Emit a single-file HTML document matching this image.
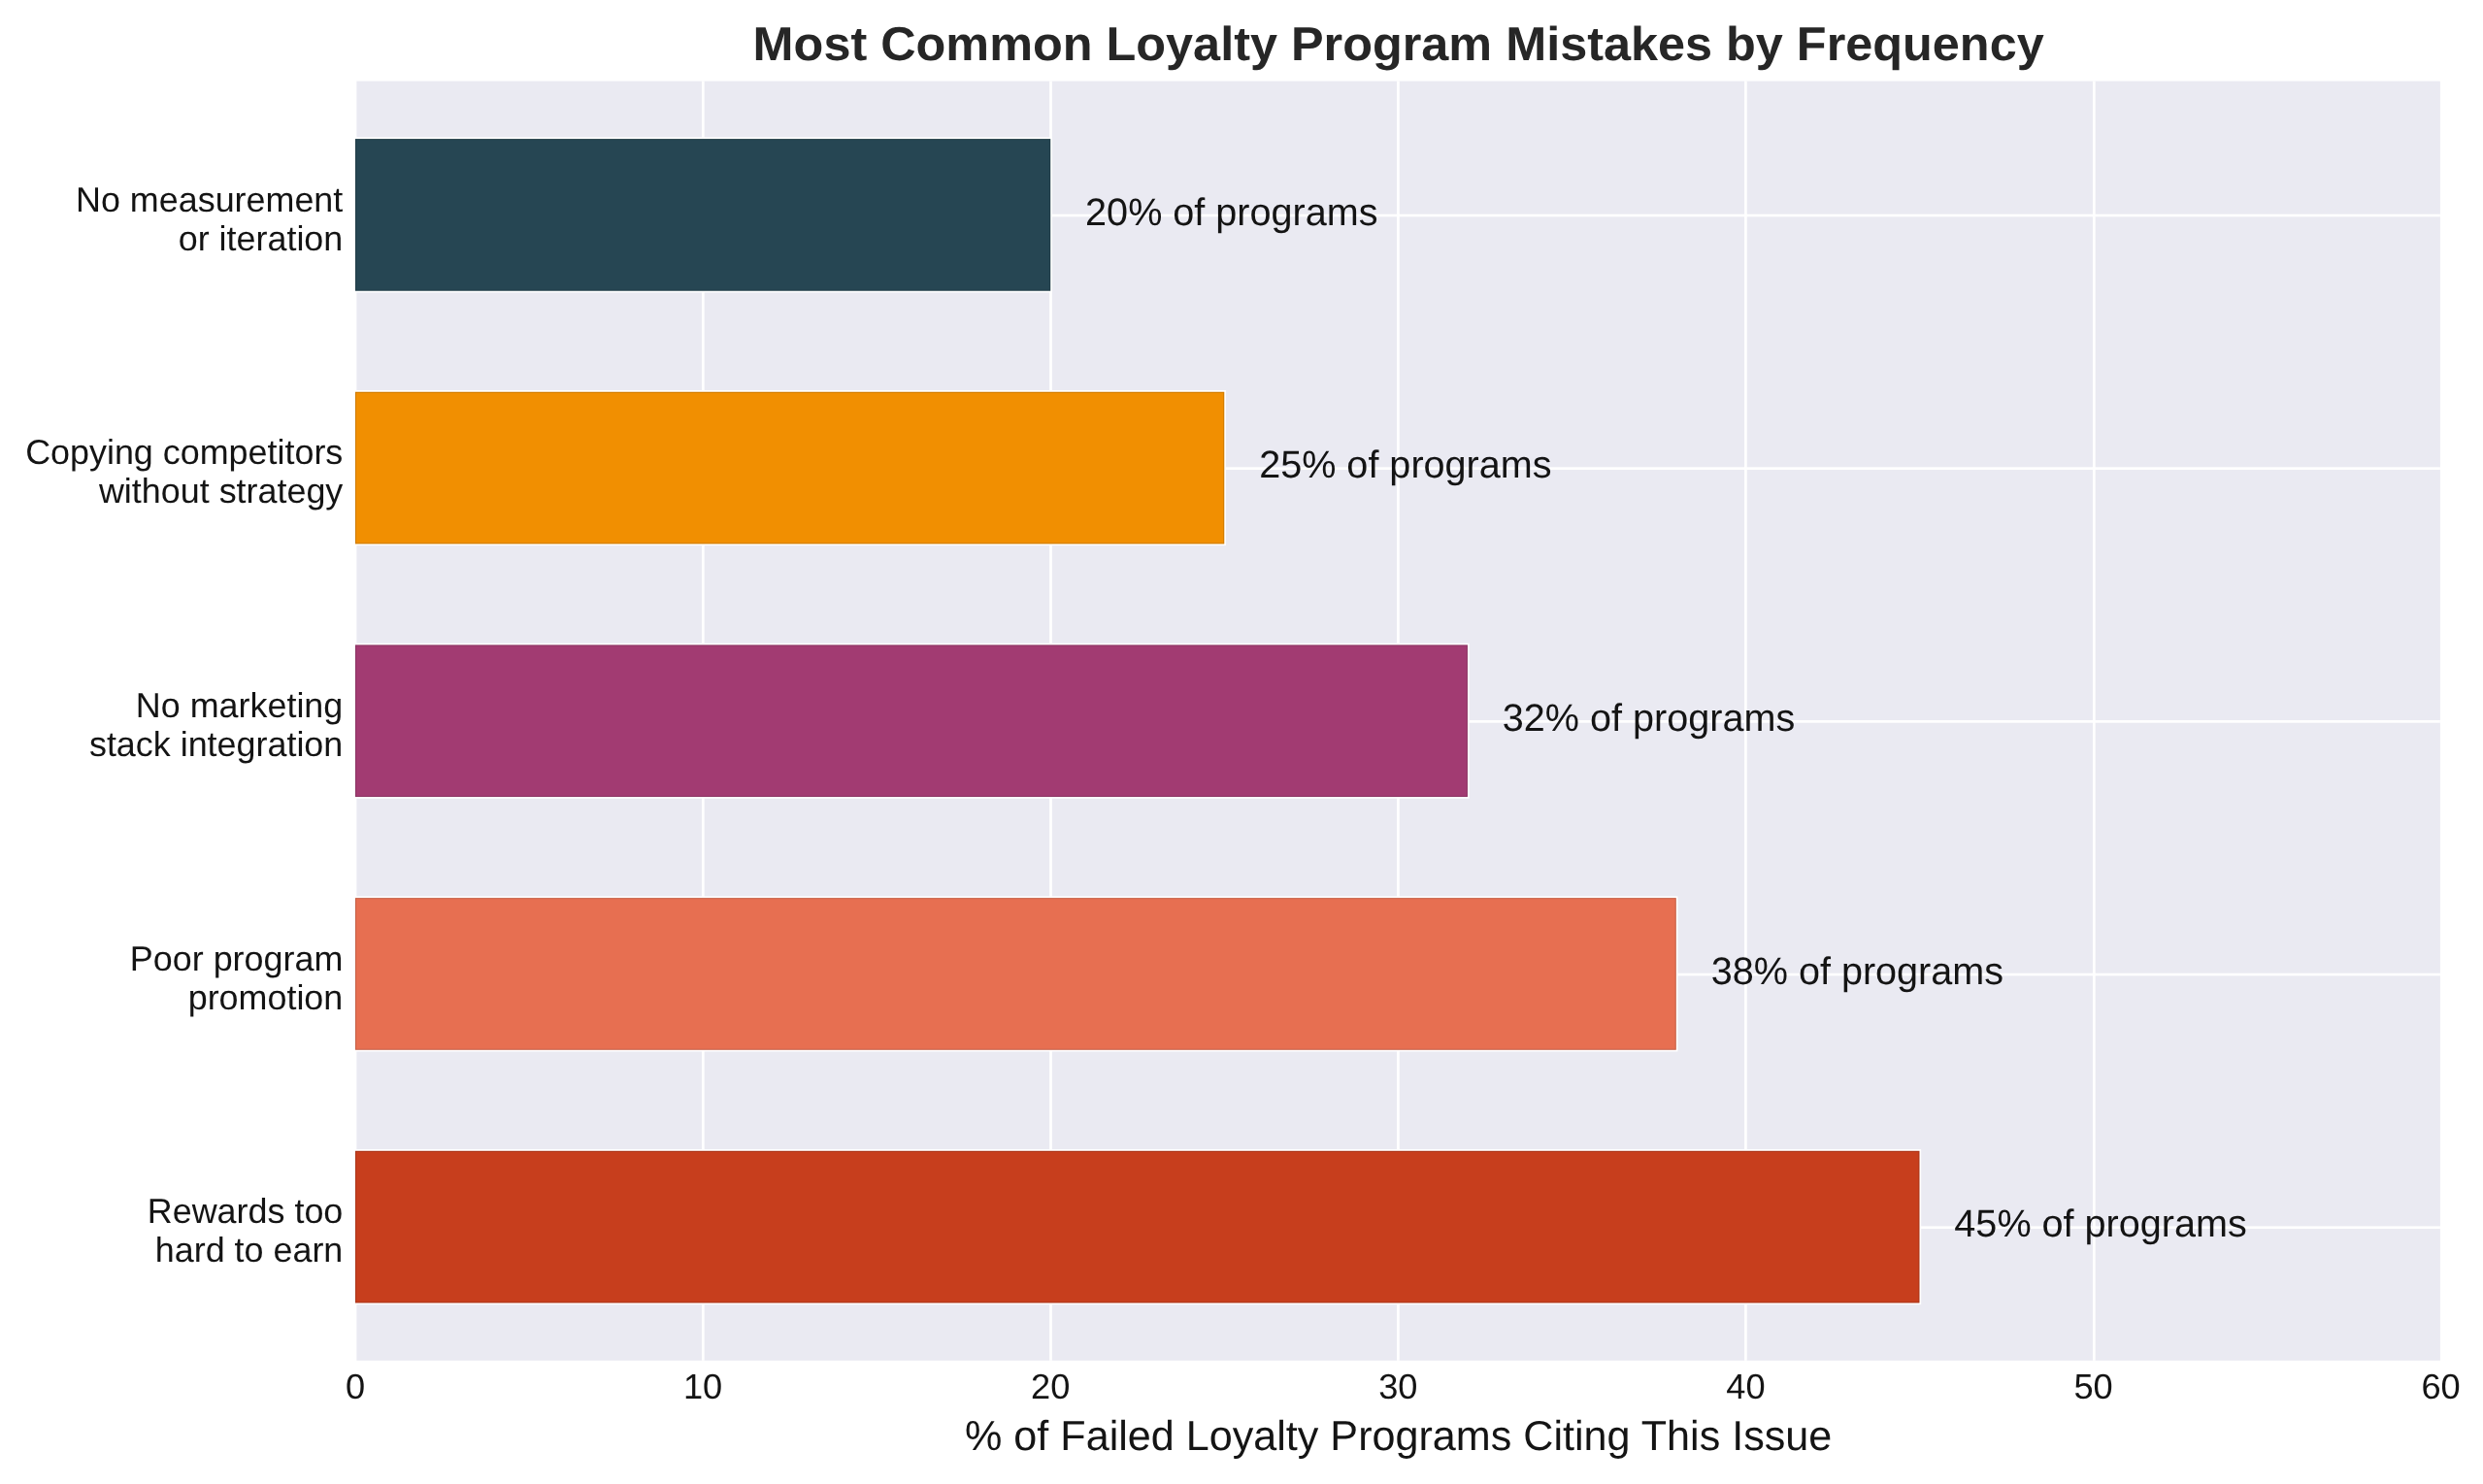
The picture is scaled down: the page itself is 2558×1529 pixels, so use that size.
<!DOCTYPE html>
<html><head><meta charset="utf-8">
<style>
html,body{margin:0;padding:0;background:#fff;}
body{width:2558px;height:1529px;overflow:hidden;}
svg{display:block;will-change:transform;}
text{font-family:"Liberation Sans", sans-serif;text-rendering:geometricPrecision;}
</style></head><body>
<svg width="2558" height="1529" viewBox="0 0 2558 1529">
<rect x="0" y="0" width="2558" height="1529" fill="#ffffff"/>
<rect x="367.4" y="83.6" width="2146.50" height="1318.20" fill="#EAEAF2"/>

<rect x="722.95" y="83.6" width="2.7" height="1318.20" fill="#ffffff"/>
<rect x="1081.15" y="83.6" width="2.7" height="1318.20" fill="#ffffff"/>
<rect x="1439.05" y="83.6" width="2.7" height="1318.20" fill="#ffffff"/>
<rect x="1797.05" y="83.6" width="2.7" height="1318.20" fill="#ffffff"/>
<rect x="2155.95" y="83.6" width="2.7" height="1318.20" fill="#ffffff"/>
<rect x="367.4" y="220.65" width="2146.50" height="2.7" fill="#ffffff"/>
<rect x="367.4" y="481.33" width="2146.50" height="2.7" fill="#ffffff"/>
<rect x="367.4" y="742.01" width="2146.50" height="2.7" fill="#ffffff"/>
<rect x="367.4" y="1002.69" width="2146.50" height="2.7" fill="#ffffff"/>
<rect x="367.4" y="1263.37" width="2146.50" height="2.7" fill="#ffffff"/>
<rect x="365.00" y="141.40" width="718.90" height="160.00" fill="#ffffff"/>
<rect x="366.00" y="143.10" width="716.20" height="156.60" fill="#264653"/>
<rect x="366.50" y="143.60" width="715.20" height="155.60" fill="none" stroke="#000" stroke-opacity="0.15" stroke-width="1"/>
<rect x="365.00" y="402.08" width="897.95" height="160.00" fill="#ffffff"/>
<rect x="366.00" y="403.78" width="895.25" height="156.60" fill="#F18F01"/>
<rect x="366.50" y="404.28" width="894.25" height="155.60" fill="none" stroke="#000" stroke-opacity="0.15" stroke-width="1"/>
<rect x="365.00" y="662.76" width="1148.62" height="160.00" fill="#ffffff"/>
<rect x="366.00" y="664.46" width="1145.92" height="156.60" fill="#A23B72"/>
<rect x="366.50" y="664.96" width="1144.92" height="155.60" fill="none" stroke="#000" stroke-opacity="0.15" stroke-width="1"/>
<rect x="365.00" y="923.44" width="1363.48" height="160.00" fill="#ffffff"/>
<rect x="366.00" y="925.14" width="1360.78" height="156.60" fill="#E76F51"/>
<rect x="366.50" y="925.64" width="1359.78" height="155.60" fill="none" stroke="#000" stroke-opacity="0.15" stroke-width="1"/>
<rect x="365.00" y="1184.12" width="1614.15" height="160.00" fill="#ffffff"/>
<rect x="366.00" y="1185.82" width="1611.45" height="156.60" fill="#C73E1D"/>
<rect x="366.50" y="1186.32" width="1610.45" height="155.60" fill="none" stroke="#000" stroke-opacity="0.15" stroke-width="1"/>
<text transform="translate(353.30 217.70) scale(1 1.0)" x="0" y="0" font-size="35.9" fill="#141414" text-anchor="end">No measurement</text>
<text transform="translate(353.30 257.60) scale(1 1.0)" x="0" y="0" font-size="35.9" fill="#141414" text-anchor="end">or iteration</text>
<text transform="translate(1118.11 231.60) scale(1 1.0)" x="0" y="0" font-size="39.6" fill="#141414" text-anchor="start">20% of programs</text>
<text transform="translate(353.30 478.38) scale(1 1.0)" x="0" y="0" font-size="35.9" fill="#141414" text-anchor="end">Copying competitors</text>
<text transform="translate(353.30 518.28) scale(1 1.0)" x="0" y="0" font-size="35.9" fill="#141414" text-anchor="end">without strategy</text>
<text transform="translate(1297.16 492.28) scale(1 1.0)" x="0" y="0" font-size="39.6" fill="#141414" text-anchor="start">25% of programs</text>
<text transform="translate(353.30 739.06) scale(1 1.0)" x="0" y="0" font-size="35.9" fill="#141414" text-anchor="end">No marketing</text>
<text transform="translate(353.30 778.96) scale(1 1.0)" x="0" y="0" font-size="35.9" fill="#141414" text-anchor="end">stack integration</text>
<text transform="translate(1547.83 752.96) scale(1 1.0)" x="0" y="0" font-size="39.6" fill="#141414" text-anchor="start">32% of programs</text>
<text transform="translate(353.30 999.74) scale(1 1.0)" x="0" y="0" font-size="35.9" fill="#141414" text-anchor="end">Poor program</text>
<text transform="translate(353.30 1039.64) scale(1 1.0)" x="0" y="0" font-size="35.9" fill="#141414" text-anchor="end">promotion</text>
<text transform="translate(1762.69 1013.64) scale(1 1.0)" x="0" y="0" font-size="39.6" fill="#141414" text-anchor="start">38% of programs</text>
<text transform="translate(353.30 1260.42) scale(1 1.0)" x="0" y="0" font-size="35.9" fill="#141414" text-anchor="end">Rewards too</text>
<text transform="translate(353.30 1300.32) scale(1 1.0)" x="0" y="0" font-size="35.9" fill="#141414" text-anchor="end">hard to earn</text>
<text transform="translate(2013.36 1274.32) scale(1 1.0)" x="0" y="0" font-size="39.6" fill="#141414" text-anchor="start">45% of programs</text>
<text transform="translate(366.00 1440.80) scale(1 1.0)" x="0" y="0" font-size="36.2" fill="#141414" text-anchor="middle">0</text>
<text transform="translate(724.10 1440.80) scale(1 1.0)" x="0" y="0" font-size="36.2" fill="#141414" text-anchor="middle">10</text>
<text transform="translate(1082.20 1440.80) scale(1 1.0)" x="0" y="0" font-size="36.2" fill="#141414" text-anchor="middle">20</text>
<text transform="translate(1440.30 1440.80) scale(1 1.0)" x="0" y="0" font-size="36.2" fill="#141414" text-anchor="middle">30</text>
<text transform="translate(1798.40 1440.80) scale(1 1.0)" x="0" y="0" font-size="36.2" fill="#141414" text-anchor="middle">40</text>
<text transform="translate(2156.50 1440.80) scale(1 1.0)" x="0" y="0" font-size="36.2" fill="#141414" text-anchor="middle">50</text>
<text transform="translate(2514.60 1440.80) scale(1 1.0)" x="0" y="0" font-size="36.2" fill="#141414" text-anchor="middle">60</text>
<text transform="translate(1440.65 1494.30) scale(1 1.0)" x="0" y="0" font-size="43.14" fill="#141414" text-anchor="middle">% of Failed Loyalty Programs Citing This Issue</text>
<text transform="translate(1440.65 62.00) scale(1 0.976)" x="0" y="0" font-size="50.4" fill="#262626" text-anchor="middle" font-weight="bold">Most Common Loyalty Program Mistakes by Frequency</text>
</svg>
</body></html>
